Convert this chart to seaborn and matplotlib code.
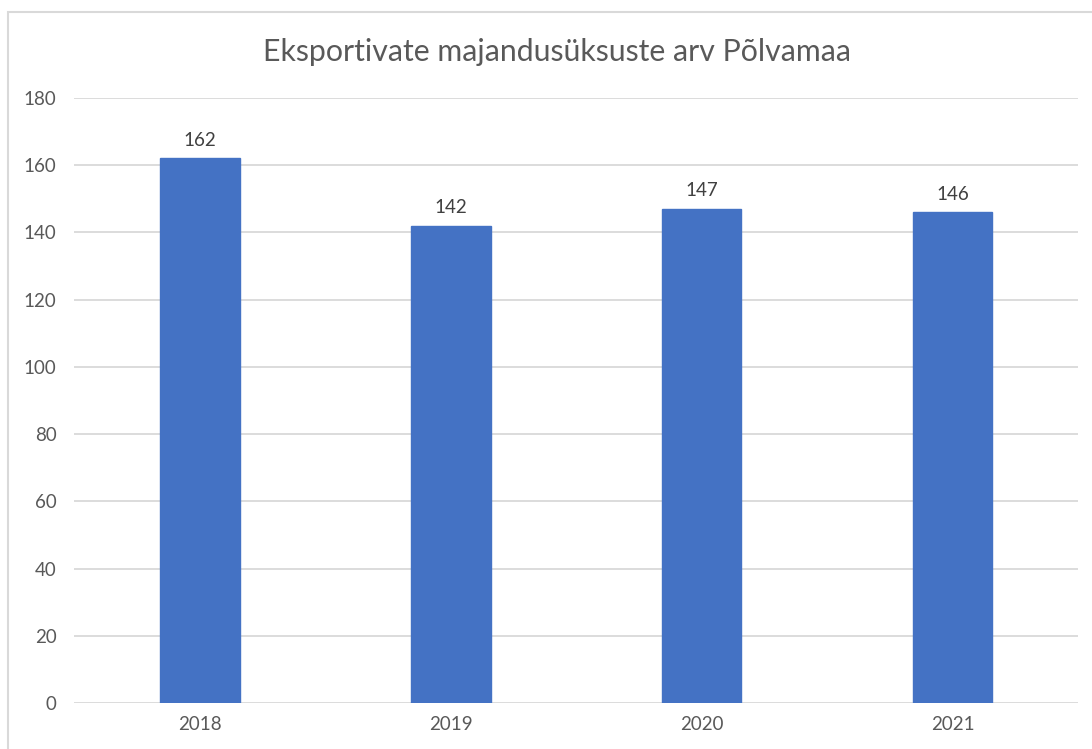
import matplotlib
matplotlib.use("Agg")
import matplotlib.pyplot as plt
import seaborn as sns
import pandas as pd
from matplotlib.patches import Rectangle

years = ["2018", "2019", "2020", "2021"]
values = [162, 142, 147, 146]
title = "Eksportivate majandusüksuste arv Põlvamaa"
yticks = [0, 20, 40, 60, 80, 100, 120, 140, 160, 180]

sns.set_theme(style="white")
plt.rcParams['font.family'] = ['Lato', 'DejaVu Sans']

df = pd.DataFrame({"year": years, "value": values})

fig = plt.figure(figsize=(10.92, 7.49), dpi=100)
ax = fig.add_axes([0.0682, 0.0614, 0.9194, 0.8078])

sns.barplot(data=df, x="year", y="value", color="#4472C4", width=0.315,
            saturation=1, ax=ax, edgecolor="#4472C4")

ax.set_ylim(0, 180)
ax.set_yticks(yticks)
ax.set_yticklabels([str(t) for t in yticks])
ax.set_xlim(-0.5, 3.5)
ax.yaxis.grid(True, color="#D9D9D9", linewidth=1.3)
ax.set_axisbelow(True)
for s in ax.spines.values():
    s.set_visible(False)
ax.set_xlabel("")
ax.set_ylabel("")
ax.tick_params(axis="y", colors="#595959", labelsize=13.5, length=0, pad=13)
ax.tick_params(axis="x", colors="#595959", labelsize=13.5, length=0, pad=9)

for c in ax.containers:
    ax.bar_label(c, labels=[str(v) for v in values], padding=7,
                 color="#404040", fontsize=13.5)

fig.text(0.51, 0.930, title, ha="center", va="center", fontsize=21.8, color="#595959")

fig.patches.append(Rectangle((8/1092, -0.1), 1.2, 1 - 12/749 + 0.1,
                             transform=fig.transFigure, fill=False,
                             edgecolor="#D9D9D9", linewidth=1.5))

fig.savefig("out.png", dpi=100)
